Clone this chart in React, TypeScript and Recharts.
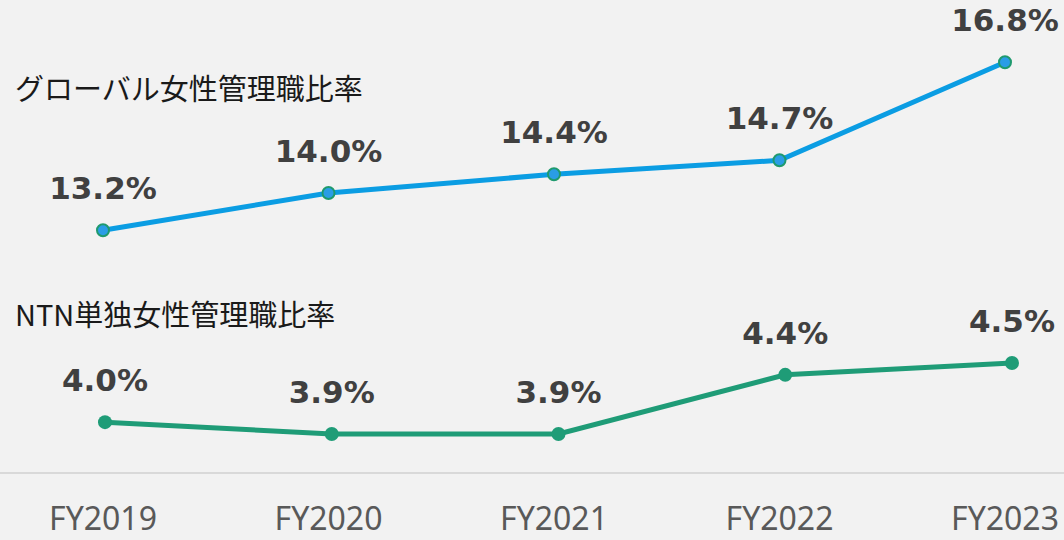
import { LineChart, Line, XAxis, YAxis } from "recharts";

const years = ["FY2019", "FY2020", "FY2021", "FY2022", "FY2023"];
const globalRate = [13.2, 14.0, 14.4, 14.7, 16.8];
const ntnRate = [4.0, 3.9, 3.9, 4.4, 4.5];

const BLUE = "#0b9de3";
const GREEN = "#1f9c77";

const data = years.map((y, i) => ({
  year: y,
  global: globalRate[i],
  ntn: ntnRate[i],
}));

const renderLabel = (props: any) => {
  const { x, y, value, index } = props;
  return (
    <text
      key={`lbl-${index}`}
      x={x}
      y={y - 31}
      textAnchor="middle"
      fill="#404040"
      fontFamily="'DejaVu Sans', sans-serif"
      fontWeight="bold"
      fontSize={31}
    >
      {Number(value).toFixed(1)}%
    </text>
  );
};

const blueDot = (props: any) => (
  <circle
    key={`bd-${props.index}`}
    cx={props.cx}
    cy={props.cy}
    r={6}
    fill="#2a9de6"
    stroke="#1f9a6e"
    strokeWidth={2}
  />
);

const greenDot = (props: any) => (
  <circle key={`gd-${props.index}`} cx={props.cx} cy={props.cy} r={7} fill={GREEN} />
);

const titleStyle: React.CSSProperties = {
  position: "absolute",
  left: 15,
  fontFamily: "'Noto Sans CJK JP', sans-serif",
  fontSize: 29,
  color: "#1a1a1a",
  lineHeight: 1,
  whiteSpace: "nowrap",
};

export default function App() {
  return (
    <div
      style={{
        position: "absolute",
        left: 0,
        top: 0,
        width: 1064,
        height: 540,
        background: "#f2f2f2",
        overflow: "hidden",
      }}
    >
      <LineChart
        width={1064}
        height={540}
        data={data}
        margin={{ top: 0, right: 0, bottom: 0, left: 0 }}
      >
        <XAxis
          xAxisId="a"
          dataKey="year"
          height={67}
          padding={{ left: 103, right: 59 }}
          axisLine={{ stroke: "#d9d9d9", strokeWidth: 2 }}
          tickLine={false}
          tick={{
            fill: "#595959",
            fontSize: 32,
            fontFamily: "'Noto Sans', sans-serif",
          }}
          tickMargin={28}
          interval={0}
        />
        <XAxis
          xAxisId="b"
          dataKey="year"
          hide
          padding={{ left: 105, right: 52 }}
        />
        <YAxis yAxisId="g" hide type="number" domain={[8, 18.135]} />
        <YAxis yAxisId="n" hide type="number" domain={[3.57, 7.57]} />
        <Line
          xAxisId="a"
          yAxisId="g"
          dataKey="global"
          stroke={BLUE}
          strokeWidth={5}
          dot={blueDot}
          activeDot={false}
          label={renderLabel}
          isAnimationActive={false}
        />
        <Line
          xAxisId="b"
          yAxisId="n"
          dataKey="ntn"
          stroke={GREEN}
          strokeWidth={5}
          dot={greenDot}
          activeDot={false}
          label={renderLabel}
          isAnimationActive={false}
        />
      </LineChart>
      <div style={{ ...titleStyle, top: 73 }}>グローバル女性管理職比率</div>
      <div style={{ ...titleStyle, top: 299 }}>NTN単独女性管理職比率</div>
    </div>
  );
}
